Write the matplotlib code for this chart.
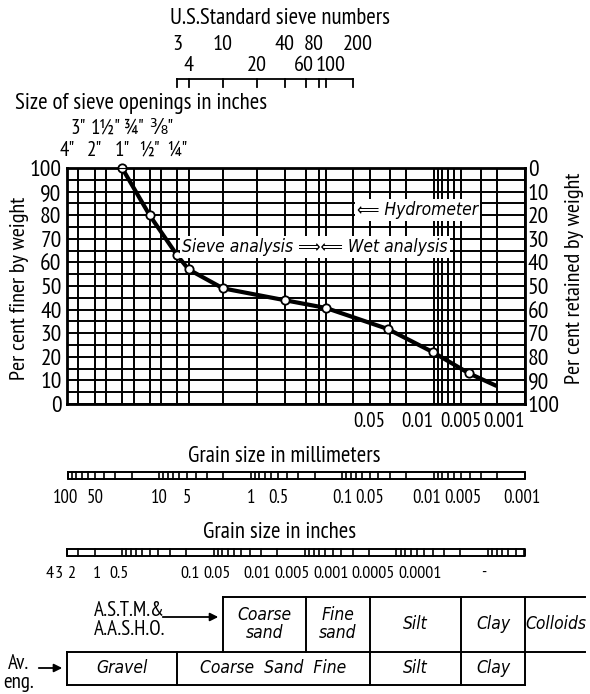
import matplotlib.pyplot as plt
from matplotlib.ticker import NullLocator

plt.rcParams['font.family'] = ['PT Sans Narrow', 'DejaVu Sans']
plt.rcParams['font.stretch'] = 'condensed'

# === DATA ===
# test results: grain size in mm, per cent finer (last point = end of line, no marker)
grain_mm = [25.4, 12.7, 6.35, 4.75, 2.0, 0.425, 0.15, 0.0317, 0.0102, 0.0041, 0.00214]
pct_finer = [100, 80, 63, 57, 49, 44, 40.7, 31.8, 22, 13, 8]
n_marked = 10

# U.S. standard sieves
sieve_no = ['3', '4', '10', '20', '40', '60', '80', '100', '200']
sieve_mm = [6.35, 4.75, 2.0, 0.85, 0.425, 0.25, 0.18, 0.15, 0.075]

# sieve openings in inches
opening_lbl = ['4"', '3"', '2"', '1½"', '1"', '¾"', '½"', '⅜"', '¼"']
opening_mm = [101.6, 76.2, 50.8, 38.1, 25.4, 19.05, 12.7, 9.525, 6.35]

# extra grid lines of the wet analysis part
hydro_mm = [0.05, 0.03, 0.02, 0.01, 0.009, 0.008, 0.007, 0.006, 0.005, 0.003, 0.002, 0.001]
pct_ticks = list(range(0, 101, 10))
under_lbl = ['0.05', '0.01', '0.005', '0.001']
under_mm = [0.05, 0.01, 0.005, 0.001]

# grain size scales
mm_lbl = ['100', '50', '10', '5', '1', '0.5', '0.1', '0.05', '0.01', '0.005', '0.001']
mm_val = [100, 50, 10, 5, 1, 0.5, 0.1, 0.05, 0.01, 0.005, 0.001]
inch_lbl = ['4', '3', '2', '1', '0.5', '0.1', '0.05', '0.01', '0.005', '0.001', '0.0005', '0.0001', '-']

# soil classification rows
astm_edges = [2.0, 0.25, 0.05, 0.005, 0.001]
astm_names = ['Coarse\nsand', 'Fine\nsand', 'Silt', 'Clay']
aveng_edges = [101.6, 6.35, 0.05, 0.005, 0.001]
aveng_names = ['Gravel', 'Coarse  Sand  Fine', 'Silt', 'Clay']

# === LAYOUT (pixels) ===
W, H = 590, 694
L, R, T, B = 67, 525, 168, 404
inch_lbl_x = [50, 59, 71, 97, 119, 190, 217, 257, 292, 331, 373, 420, 484]
sieve_nudge = {'60': -2, '80': -5, '100': 5, '200': 4}
mm_nudge = {'100': -2, '0.01': -7, '0.005': 2, '0.001': -3}
ital = dict(family='DejaVu Sans', style='oblique', stretch='condensed')

fig = plt.figure(figsize=(W / 100, H / 100), dpi=100)
lay = fig.add_axes([0, 0, 1, 1])
lay.set_xlim(0, W)
lay.set_ylim(H, 0)
lay.axis('off')
lay.set_autoscale_on(False)

ax = fig.add_axes([L / W, 1 - B / H, (R - L) / W, (B - T) / H])
ax.set_xscale('log')
ax.set_xlim(101.6, 0.001)
ax.set_ylim(0, 100)
ax.set_facecolor('none')


def xp(mm):
    # pixel x of a grain size, through the main axis scale
    return ax.transData.transform((mm, 50))[0]


# --- grid ---
for v in opening_mm + sieve_mm[1:] + hydro_mm:
    ax.axvline(v, color='k', lw=1.4)
for h in range(0, 101, 5):
    ax.axhline(h, color='k', lw=1.4)
for s in ax.spines.values():
    s.set_linewidth(2)

ax.plot(grain_mm, pct_finer, color='k', lw=3, zorder=5, clip_on=False)
ax.plot(grain_mm[:n_marked], pct_finer[:n_marked], 'o', mfc='white', mec='k',
        ms=6, mew=1.3, zorder=6, clip_on=False)

ax.xaxis.set_major_locator(NullLocator())
ax.xaxis.set_minor_locator(NullLocator())
ax.set_yticks(pct_ticks)
ax.tick_params(which='both', length=0, labelsize=17, pad=4)
ax2 = ax.twinx()
ax2.set_ylim(100, 0)
ax2.set_yticks(pct_ticks)
ax2.tick_params(length=0, labelsize=17, pad=2)
ax2.xaxis.set_major_locator(NullLocator())
ax2.xaxis.set_minor_locator(NullLocator())

lay.text(20, 288, 'Per cent finer by weight', rotation=90, ha='center', va='center', fontsize=16)
lay.text(574, 278, 'Per cent retained by weight', rotation=90, ha='center', va='center', fontsize=16)

# annotations inside the chart
box = dict(facecolor='white', edgecolor='none', pad=1.5)
fig.text(182 / W, 1 - 247 / H, 'Sieve analysis \u27f9\u27f8 Wet analysis',
         fontsize=12.5, va='center', ha='left', bbox=box, zorder=10, **ital)
fig.text(357 / W, 1 - 210 / H, '\u27f8 Hydrometer',
         fontsize=12.5, va='center', ha='left', bbox=box, zorder=10, **ital)

# labels under the chart
for lbl, v, a in zip(under_lbl, under_mm, ['center', 'right', 'center', 'right']):
    lay.text(xp(v), 421, lbl, ha=a, va='center', fontsize=15)

# --- sieve numbers on top ---
lay.text(280, 18, 'U.S.Standard sieve numbers', ha='center', va='center', fontsize=16.5)
lay.plot([xp(sieve_mm[0]), xp(sieve_mm[-1])], [79, 79], color='k', lw=1.3)
for i, (lbl, v) in enumerate(zip(sieve_no, sieve_mm)):
    x = xp(v)
    lay.plot([x, x], [79, 87], color='k', lw=1.3)
    y = 44 if i % 2 == 0 else 65
    lay.text(x + sieve_nudge.get(lbl, 0), y, lbl, ha='center', va='center', fontsize=16)

lay.text(15, 103, 'Size of sieve openings in inches', ha='left', va='center', fontsize=16.5)
for i, (lbl, v) in enumerate(zip(opening_lbl, opening_mm)):
    y = 150 if i % 2 == 0 else 128
    lay.text(xp(v), y, lbl, ha='center', va='center', fontsize=15)


# --- grain size bars ---
def scale_bar(y0, y1, ticks_mm, x_start, x_end):
    lay.plot([x_start, x_end, x_end, x_start, x_start], [y0, y0, y1, y1, y0], color='k', lw=1.4)
    for v in ticks_mm:
        x = xp(v)
        if x_start <= x <= x_end:
            lay.plot([x, x], [y0, y1], color='k', lw=1.2)


mm_ticks = [n * 10.0 ** k for k in range(-3, 2) for n in range(1, 10)] + [100]
lay.text(284, 456, 'Grain size in millimeters', ha='center', va='center', fontsize=16.5)
scale_bar(472, 479, mm_ticks, xp(100), xp(0.001))
for lbl, v in zip(mm_lbl, mm_val):
    lay.text(xp(v) + mm_nudge.get(lbl, 0), 498, lbl, ha='center', va='center', fontsize=13.5)

inch_ticks = [25.4 * n * 10.0 ** k for k in range(-5, 1) for n in range(1, 10)]
lay.text(280, 532, 'Grain size in inches', ha='center', va='center', fontsize=16.5)
scale_bar(549, 556, inch_ticks, xp(101.6), xp(0.001))
for lbl, x in zip(inch_lbl, inch_lbl_x):
    lay.text(x, 574, lbl, ha='center', va='center', fontsize=13)

# --- classification rows ---
lw = 1.4
lay.plot([xp(astm_edges[0]), 585], [597, 597], color='k', lw=lw)
lay.plot([xp(aveng_edges[0]), 585], [652, 652], color='k', lw=lw)
for v in astm_edges:
    lay.plot([xp(v), xp(v)], [597, 652], color='k', lw=lw)
for a, b, name in zip(astm_edges[:-1], astm_edges[1:], astm_names):
    lay.text((xp(a) + xp(b)) / 2, 624, name, ha='center', va='center',
             fontsize=12.5, linespacing=1.0, **ital)
lay.text(556, 624, 'Colloids', ha='center', va='center', fontsize=12.5, **ital)

lay.plot([xp(aveng_edges[0]), xp(aveng_edges[-1])], [685, 685], color='k', lw=lw)
for v in aveng_edges:
    lay.plot([xp(v), xp(v)], [652, 685], color='k', lw=lw)
for a, b, name in zip(aveng_edges[:-1], aveng_edges[1:], aveng_names):
    lay.text((xp(a) + xp(b)) / 2, 668, name, ha='center', va='center', fontsize=12.5, **ital)

lay.text(165, 620, 'A.S.T.M.&\nA.A.S.H.O.', ha='right', va='center', fontsize=15, linespacing=1.0)
lay.annotate('', xy=(xp(astm_edges[0]) - 2, 617), xytext=(160, 617),
             arrowprops=dict(arrowstyle='-|>', color='k', lw=1.3, mutation_scale=12))
lay.text(19, 673, 'Av.\neng.', ha='center', va='center', fontsize=15, linespacing=1.0)
lay.annotate('', xy=(xp(aveng_edges[0]) - 2, 668), xytext=(36, 668),
             arrowprops=dict(arrowstyle='-|>', color='k', lw=1.3, mutation_scale=12))

fig.savefig('out.png', dpi=100, facecolor='white')
